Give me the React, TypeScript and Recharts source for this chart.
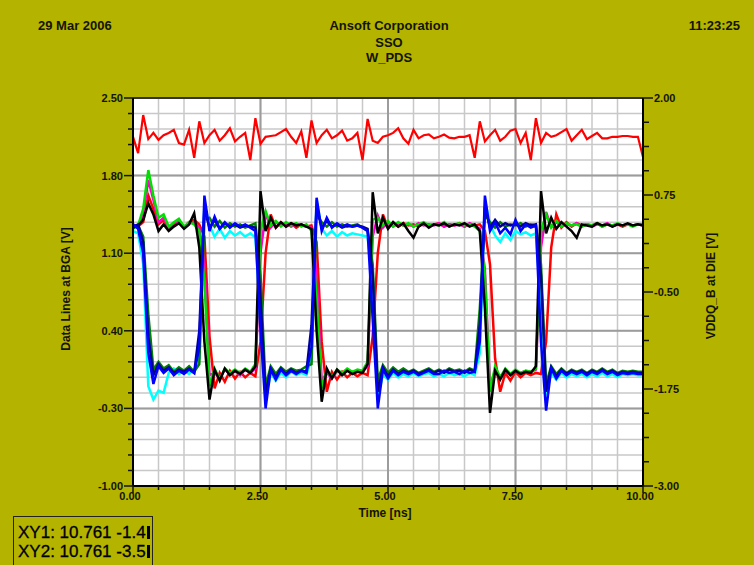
import React from "react";
import { LineChart, Line, XAxis, YAxis, CartesianGrid, ReferenceLine } from "recharts";

// time axis [ns], sampled every 0.1 ns
const time = [
  0.0, 0.1, 0.2, 0.3, 0.4, 0.5, 0.6, 0.7, 0.8, 0.9,
  1.0, 1.1, 1.2, 1.3, 1.4, 1.5, 1.6, 1.7, 1.8, 1.9,
  2.0, 2.1, 2.2, 2.3, 2.4, 2.5, 2.6, 2.7, 2.8, 2.9,
  3.0, 3.1, 3.2, 3.3, 3.4, 3.5, 3.6, 3.7, 3.8, 3.9,
  4.0, 4.1, 4.2, 4.3, 4.4, 4.5, 4.6, 4.7, 4.8, 4.9,
  5.0, 5.1, 5.2, 5.3, 5.4, 5.5, 5.6, 5.7, 5.8, 5.9,
  6.0, 6.1, 6.2, 6.3, 6.4, 6.5, 6.6, 6.7, 6.8, 6.9,
  7.0, 7.1, 7.2, 7.3, 7.4, 7.5, 7.6, 7.7, 7.8, 7.9,
  8.0, 8.1, 8.2, 8.3, 8.4, 8.5, 8.6, 8.7, 8.8, 8.9,
  9.0, 9.1, 9.2, 9.3, 9.4, 9.5, 9.6, 9.7, 9.8, 9.9,
  10.0,
];

// data lines at BGA [V]
const dqBlack = [
  1.33, 1.35, 1.40, 1.55, 1.45, 1.30, 1.36, 1.30, 1.34, 1.37,
  1.32, 1.36, 1.46, 1.15, 0.30, -0.22, 0.05, -0.05, 0.06, 0.00,
  0.04, 0.01, 0.05, 0.02, 0.08, 1.66, 1.30, 1.42, 1.33, 1.38,
  1.34, 1.37, 1.35, 1.36, 1.34, 1.32, 0.40, -0.24, 0.06, -0.03,
  0.05, 0.00, 0.04, 0.01, 0.03, 0.02, 0.10, 1.65, 1.28, 1.42,
  1.32, 1.38, 1.34, 1.37, 1.30, 1.24, 1.34, 1.37, 1.33, 1.36,
  1.35, 1.37, 1.34, 1.36, 1.35, 1.37, 1.34, 1.36, 1.30, 0.60,
  -0.34, 0.04, -0.04, 0.05, 0.00, 0.04, 0.01, 0.03, 0.02, 0.08,
  1.66, 1.28, 1.42, 1.32, 1.38, 1.34, 1.30, 1.24, 1.36, 1.35,
  1.34, 1.37, 1.35, 1.36, 1.34, 1.36, 1.35, 1.37, 1.35, 1.36,
  1.35,
];
const dqRed = [
  1.36, 1.34, 1.38, 1.62, 1.50, 1.36, 1.40, 1.32, 1.36, 1.40,
  1.33, 1.38, 1.40, 1.36, 1.25, 0.35, -0.12, 0.02, -0.06, 0.04,
  -0.03, 0.03, -0.02, 0.02, -0.01, 0.30, 1.10, 1.45, 1.33, 1.38,
  1.34, 1.37, 1.33, 1.36, 1.34, 1.35, 1.20, 0.30, -0.15, 0.03,
  -0.04, 0.03, -0.02, 0.02, -0.01, 0.02, 0.00, 0.35, 1.10, 1.45,
  1.33, 1.38, 1.34, 1.37, 1.35, 1.36, 1.34, 1.37, 1.35, 1.36,
  1.37, 1.34, 1.36, 1.35, 1.37, 1.34, 1.36, 1.35, 1.36, 1.30,
  1.00, 0.15, -0.15, 0.02, -0.05, 0.03, -0.02, 0.02, 0.00, 0.02,
  0.01, 0.30, 1.15, 1.45, 1.33, 1.38, 1.34, 1.37, 1.35, 1.36,
  1.35, 1.37, 1.34, 1.36, 1.35, 1.36, 1.34, 1.36, 1.35, 1.36,
  1.36,
];
const dqGreen = [
  1.32, 1.35, 1.50, 1.85, 1.62, 1.42, 1.45, 1.34, 1.38, 1.41,
  1.34, 1.38, 1.36, 1.30, 0.85, -0.10, 0.06, -0.04, 0.06, 0.02,
  0.05, 0.02, 0.06, 0.03, 0.10, 1.30, 1.48, 1.35, 1.39, 1.34,
  1.38, 1.35, 1.37, 1.34, 1.36, 1.30, 0.70, -0.12, 0.05, -0.02,
  0.05, 0.02, 0.06, 0.03, 0.05, 0.04, 0.12, 1.40, 1.42, 1.35,
  1.39, 1.34, 1.38, 1.35, 1.37, 1.34, 1.36, 1.38, 1.35, 1.36,
  1.35, 1.38, 1.34, 1.36, 1.37, 1.35, 1.36, 1.34, 1.30, 0.90,
  -0.15, 0.08, -0.02, 0.06, 0.01, 0.05, 0.02, 0.04, 0.03, 0.06,
  1.30, 1.45, 1.33, 1.39, 1.34, 1.37, 1.35, 1.36, 1.34, 1.36,
  1.35, 1.37, 1.34, 1.36, 1.35, 1.37, 1.35, 1.36, 1.34, 1.36,
  1.36,
];
const dqMagenta = [
  1.35, 1.33, 1.45, 1.76, 1.58, 1.38, 1.42, 1.33, 1.37, 1.40,
  1.33, 1.37, 1.38, 1.33, 1.00, 0.00, 0.02, -0.03, 0.05, 0.01,
  0.04, 0.00, 0.05, 0.02, 0.06, 1.10, 1.46, 1.33, 1.38, 1.35,
  1.37, 1.34, 1.36, 1.35, 1.34, 1.33, 0.90, -0.05, 0.02, -0.03,
  0.04, 0.01, 0.05, 0.02, 0.04, 0.03, 0.08, 1.25, 1.44, 1.33,
  1.38, 1.34, 1.37, 1.35, 1.36, 1.34, 1.37, 1.35, 1.36, 1.35,
  1.37, 1.34, 1.36, 1.35, 1.36, 1.34, 1.37, 1.35, 1.32, 0.95,
  -0.10, 0.04, -0.02, 0.04, 0.01, 0.03, 0.02, 0.04, 0.03, 0.05,
  1.15, 1.47, 1.34, 1.38, 1.34, 1.36, 1.35, 1.37, 1.34, 1.36,
  1.34, 1.36, 1.35, 1.37, 1.34, 1.36, 1.35, 1.36, 1.35, 1.36,
  1.35,
];
const dqBlue = [
  1.36, 1.32, 1.10, 0.20, -0.08, 0.08, 0.02, 0.06, 0.00, 0.04,
  0.01, 0.05, 0.02, 0.25, 1.62, 1.30, 1.43, 1.32, 1.38, 1.33,
  1.37, 1.34, 1.36, 1.33, 1.30, 0.40, -0.30, 0.05, -0.04, 0.05,
  0.00, 0.04, 0.01, 0.04, 0.02, 0.25, 1.60, 1.30, 1.42, 1.33,
  1.37, 1.34, 1.36, 1.34, 1.35, 1.33, 1.30, 0.50, -0.30, 0.05,
  -0.03, 0.04, 0.00, 0.03, 0.01, 0.03, 0.00, 0.02, 0.04, 0.01,
  0.01, 0.04, 0.02, 0.03, 0.01, 0.04, 0.02, 0.03, 0.30, 1.62,
  1.30, 1.38, 1.28, 1.33, 1.27, 1.40, 1.30, 1.36, 1.33, 1.35,
  0.30, -0.32, 0.06, -0.03, 0.04, 0.00, 0.03, 0.01, 0.03, 0.00,
  0.03, 0.01, 0.04, 0.01, 0.03, 0.00, 0.02, 0.01, 0.02, 0.01,
  0.01,
];
const dqCyan = [
  1.30, 1.28, 1.00, -0.10, -0.22, -0.14, -0.16, 0.02, 0.06, 0.01,
  0.04, 0.01, 0.05, 0.15, 1.55, 1.35, 1.25, 1.32, 1.24, 1.30,
  1.26, 1.29, 1.25, 1.28, 1.24, 0.50, -0.22, 0.02, -0.05, 0.02,
  -0.02, 0.03, 0.00, 0.02, 0.00, 0.15, 1.58, 1.32, 1.26, 1.30,
  1.25, 1.29, 1.26, 1.28, 1.27, 1.26, 1.25, 0.80, -0.20, 0.00,
  -0.04, 0.02, -0.02, 0.01, -0.01, 0.02, -0.01, 0.01, 0.02, -0.01,
  0.01, -0.01, 0.02, 0.00, 0.01, -0.01, 0.02, 0.00, 0.20, 1.58,
  1.36, 1.26, 1.20, 1.28, 1.22, 1.30, 1.27, 1.29, 1.26, 1.28,
  0.60, -0.18, 0.02, -0.04, 0.02, -0.02, 0.01, -0.01, 0.01, -0.02,
  0.01, -0.01, 0.02, -0.01, 0.01, -0.02, 0.01, 0.00, 0.01, 0.00,
  0.00,
];
const dqNavy = [
  1.34, 1.36, 1.20, 0.35, 0.00, 0.10, 0.04, 0.07, 0.02, 0.05,
  0.03, 0.06, 0.02, 0.40, 1.50, 1.33, 1.40, 1.32, 1.37, 1.34,
  1.36, 1.33, 1.35, 1.34, 1.33, 0.70, -0.18, 0.06, -0.02, 0.06,
  0.01, 0.05, 0.02, 0.04, 0.03, 0.45, 1.52, 1.33, 1.39, 1.34,
  1.36, 1.33, 1.35, 1.34, 1.35, 1.34, 1.32, 0.90, -0.15, 0.07,
  -0.01, 0.05, 0.01, 0.04, 0.02, 0.04, 0.01, 0.03, 0.05, 0.02,
  0.04, 0.02, 0.05, 0.03, 0.04, 0.02, 0.05, 0.03, 0.45, 1.52,
  1.33, 1.40, 1.34, 1.37, 1.35, 1.36, 1.34, 1.37, 1.35, 1.36,
  0.90, -0.15, 0.07, -0.01, 0.05, 0.01, 0.04, 0.02, 0.04, 0.01,
  0.04, 0.02, 0.05, 0.02, 0.04, 0.01, 0.03, 0.02, 0.03, 0.02,
  0.02,
];
const dqDarkGreen = [
  1.33, 1.35, 1.25, 0.55, 0.05, 0.12, 0.06, 0.09, 0.03, 0.07,
  0.04, 0.08, 0.03, 0.10, 1.40, 1.42, 1.34, 1.39, 1.33, 1.37,
  1.34, 1.36, 1.33, 1.35, 1.37, 0.90, -0.10, 0.08, 0.01, 0.07,
  0.03, 0.06, 0.04, 0.05, 0.08, 0.10, 1.45, 1.38, 1.34, 1.38,
  1.34, 1.36, 1.34, 1.35, 1.36, 1.33, 1.30, 1.00, -0.05, 0.09,
  0.02, 0.07, 0.03, 0.06, 0.03, 0.05, 0.02, 0.04, 0.06, 0.03,
  0.05, 0.03, 0.06, 0.04, 0.05, 0.03, 0.06, 0.04, 0.60, 1.45,
  1.38, 1.33, 1.38, 1.34, 1.36, 1.35, 1.37, 1.34, 1.36, 1.35,
  1.00, -0.08, 0.08, 0.01, 0.06, 0.02, 0.05, 0.03, 0.05, 0.02,
  0.05, 0.03, 0.06, 0.03, 0.05, 0.02, 0.04, 0.03, 0.04, 0.03,
  0.03,
];

// VDDQ_B at DIE [V] (right axis)
const vddq = [
  1.50, 1.29, 1.78, 1.47, 1.55, 1.46, 1.52, 1.55, 1.59, 1.42,
  1.40, 1.59, 1.23, 1.70, 1.42, 1.52, 1.59, 1.45, 1.52, 1.61,
  1.44, 1.50, 1.55, 1.20, 1.74, 1.41, 1.50, 1.51, 1.52, 1.56,
  1.60, 1.50, 1.42, 1.57, 1.23, 1.71, 1.42, 1.52, 1.59, 1.48,
  1.52, 1.58, 1.45, 1.48, 1.55, 1.20, 1.73, 1.45, 1.42, 1.50,
  1.52, 1.55, 1.61, 1.48, 1.41, 1.59, 1.48, 1.52, 1.53, 1.48,
  1.50, 1.53, 1.49, 1.48, 1.50, 1.50, 1.52, 1.23, 1.70, 1.44,
  1.52, 1.59, 1.45, 1.50, 1.58, 1.60, 1.42, 1.55, 1.20, 1.74,
  1.42, 1.55, 1.50, 1.52, 1.56, 1.60, 1.45, 1.52, 1.59, 1.47,
  1.51, 1.55, 1.48, 1.48, 1.50, 1.50, 1.51, 1.51, 1.50, 1.50,
  1.24,
];

// axis ticks
const xTicks = [0, 0.5, 1, 1.5, 2, 2.5, 3, 3.5, 4, 4.5, 5, 5.5, 6, 6.5, 7, 7.5, 8, 8.5, 9, 9.5, 10];
const xMajor = [0, 2.5, 5, 7.5, 10];
const leftTicks = [
  -1.0, -0.86, -0.72, -0.58, -0.44, -0.3, -0.16, -0.02, 0.12, 0.26, 0.4, 0.54, 0.68,
  0.82, 0.96, 1.1, 1.24, 1.38, 1.52, 1.66, 1.8, 1.94, 2.08, 2.22, 2.36, 2.5,
];
const leftMajor = [-1.0, -0.3, 0.4, 1.1, 1.8, 2.5];
const rightTicks = [
  -3, -2.6875, -2.375, -2.0625, -1.75, -1.4375, -1.125, -0.8125, -0.5, -0.1875, 0.125,
  0.4375, 0.75, 1.0625, 1.375, 1.6875, 2,
];
const rightMajor = [-3, -1.75, -0.5, 0.75, 2];

// marker readout, as shown (cut by the box in the original)
const readouts = ["XY1: 10.761 -1.4", "XY2: 10.761 -3.5"];

const series = [
  { key: "red", data: dqRed, color: "#FF0000" },
  { key: "magenta", data: dqMagenta, color: "#FF00CC" },
  { key: "green", data: dqGreen, color: "#00E000" },
  { key: "cyan", data: dqCyan, color: "#00FFFF" },
  { key: "darkgreen", data: dqDarkGreen, color: "#008000" },
  { key: "black", data: dqBlack, color: "#000000" },
  { key: "navy", data: dqNavy, color: "#000090" },
  { key: "blue", data: dqBlue, color: "#0000FF" },
];

const rows = time.map((t, i) => {
  const r: Record<string, number> = { t, vddq: vddq[i] };
  series.forEach((s) => (r[s.key] = s.data[i]));
  return r;
});

const BG = "#B3B300";
const FONT = "'Liberation Sans', Arial, Helvetica, sans-serif";
const INK = "#141400";

const isMajor = (v: number, list: number[]) => list.some((m) => Math.abs(m - v) < 1e-6);

function leftTick(props: any) {
  const { x, y, payload } = props;
  const v = payload.value;
  const major = isMajor(v, leftMajor);
  const ax = x + 10;
  return (
    <g>
      <line x1={ax - (major ? 9 : 5)} y1={y} x2={ax} y2={y} stroke={INK} strokeWidth={1.5} />
      {major && (
        <text x={x} y={y} dy="0.36em" textAnchor="end" fontSize={11} fontWeight="bold" fill={INK} fontFamily={FONT}>
          {v.toFixed(2)}
        </text>
      )}
    </g>
  );
}

function rightTick(props: any) {
  const { x, y, payload } = props;
  const v = payload.value;
  const major = isMajor(v, rightMajor);
  const ax = x - 11;
  return (
    <g>
      <line x1={ax} y1={y} x2={ax + (major ? 10 : 6)} y2={y} stroke={INK} strokeWidth={1.5} />
      {major && (
        <text x={x} y={y} dy="0.36em" textAnchor="start" fontSize={11} fontWeight="bold" fill={INK} fontFamily={FONT}>
          {v.toFixed(2)}
        </text>
      )}
    </g>
  );
}

function bottomTick(props: any) {
  const { x, y, payload } = props;
  const v = payload.value;
  const major = isMajor(v, xMajor);
  const ay = y - 6;
  return (
    <g>
      <line x1={x} y1={ay} x2={x} y2={ay + (major ? 7 : 4)} stroke={INK} strokeWidth={1.5} />
      {major && (
        <text x={x - 3} y={y} dy="0.72em" textAnchor="middle" fontSize={11} fontWeight="bold" fill={INK} fontFamily={FONT}>
          {v.toFixed(2)}
        </text>
      )}
    </g>
  );
}

const label: React.CSSProperties = {
  position: "absolute",
  fontFamily: FONT,
  fontWeight: "bold",
  fontSize: 13,
  lineHeight: "16px",
  color: INK,
  whiteSpace: "nowrap",
};

export default function App() {
  return (
    <div style={{ position: "absolute", left: 0, top: 0, width: 754, height: 565, background: BG, overflow: "hidden" }}>
      <div style={{ ...label, left: 38, top: 18 }}>29 Mar 2006</div>
      <div style={{ ...label, left: 289, width: 200, top: 18, textAlign: "center" }}>Ansoft Corporation</div>
      <div style={{ ...label, left: 289, width: 200, top: 35, textAlign: "center" }}>SSO</div>
      <div style={{ ...label, left: 289, width: 200, top: 50, textAlign: "center" }}>W_PDS</div>
      <div style={{ ...label, right: 14, top: 18 }}>11:23:25</div>

      <div style={{ position: "absolute", left: 0, top: 0 }}>
        <LineChart width={754} height={565} data={rows} margin={{ top: 98, right: 51, bottom: 49, left: 73 }}>
          <CartesianGrid fill="#FFFFFF" stroke="#C8C8C8" strokeWidth={1.5} />
          {xMajor.slice(1, -1).map((v) => (
            <ReferenceLine key={"vx" + v} x={v} stroke="#9C9C9C" strokeWidth={2} />
          ))}
          {leftMajor.slice(1, -1).map((v) => (
            <ReferenceLine key={"hy" + v} y={v} stroke="#9C9C9C" strokeWidth={2} />
          ))}
          <ReferenceLine y={2.5} stroke="#333333" strokeWidth={2} />
          <XAxis
            dataKey="t"
            type="number"
            domain={[0, 10]}
            ticks={xTicks}
            interval={0}
            height={30}
            tickSize={6}
            tickMargin={0}
            tickLine={false}
            tick={bottomTick}
            axisLine={{ stroke: "#000", strokeWidth: 2 }}
          />
          <YAxis
            type="number"
            domain={[-1, 2.5]}
            ticks={leftTicks}
            interval={0}
            width={60}
            tickSize={8}
            tickMargin={2}
            tickLine={false}
            tick={leftTick}
            axisLine={{ stroke: "#000", strokeWidth: 2 }}
          />
          <YAxis
            yAxisId="R"
            orientation="right"
            type="number"
            domain={[-3, 2]}
            ticks={rightTicks}
            interval={0}
            width={60}
            tickSize={10}
            tickMargin={1}
            tickLine={false}
            tick={rightTick}
            axisLine={{ stroke: "#000", strokeWidth: 2 }}
          />
          {series.map((s) => (
            <Line
              key={s.key}
              dataKey={s.key}
              type="linear"
              stroke={s.color}
              strokeWidth={2.5}
              dot={false}
              isAnimationActive={false}
            />
          ))}
          <Line
            yAxisId="R"
            dataKey="vddq"
            type="linear"
            stroke="#FF0000"
            strokeWidth={2.2}
            dot={false}
            isAnimationActive={false}
          />
        </LineChart>
      </div>

      <div style={{ ...label, fontSize: 12, left: 66, top: 289, transform: "translate(-50%, -50%) rotate(-90deg)" }}>
        Data Lines at BGA [V]
      </div>
      <div style={{ ...label, fontSize: 12, left: 711, top: 286, transform: "translate(-50%, -50%) rotate(-90deg)" }}>
        VDDQ_B at DIE [V]
      </div>
      <div style={{ ...label, fontSize: 12, left: 385, top: 513, transform: "translate(-50%, -50%)" }}>Time [ns]</div>

      <div
        style={{
          position: "absolute",
          left: 13,
          top: 516,
          width: 140,
          height: 60,
          border: "1px solid #222",
          fontFamily: FONT,
          fontSize: 17,
          lineHeight: "19px",
          color: "#000",
          whiteSpace: "nowrap",
          WebkitTextStroke: "0.3px #000",
          paddingTop: 6,
          boxSizing: "border-box",
        }}
      >
        {readouts.map((s) => (
          <div key={s} style={{ paddingLeft: 4, display: "flex", alignItems: "center" }}>
            <span style={{ flexShrink: 0 }}>{s}</span>
            <span
              style={{ display: "inline-block", flexShrink: 0, width: 3, height: 13, background: "#000", marginLeft: 1 }}
            />
          </div>
        ))}
      </div>
    </div>
  );
}
